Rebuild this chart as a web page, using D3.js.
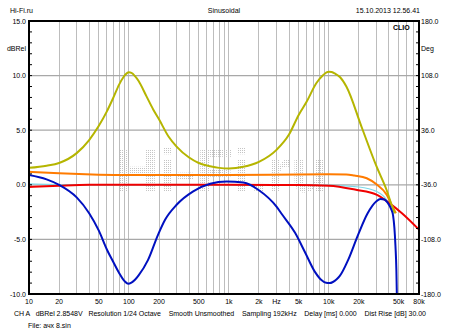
<!DOCTYPE html>
<html><head><meta charset="utf-8">
<script src="https://cdn.jsdelivr.net/npm/d3@7"></script>
<style>
html,body{margin:0;padding:0;background:#fff;}
text{font-family:"Liberation Sans",Arial,sans-serif;fill:#000;}
</style></head>
<body><svg id="c" width="450" height="335"></svg>
<script>
// ---- data ----
const xTickValues = [10,20,50,100,200,500,1000,2000,3000,5000,10000,20000,50000,80000];
const xTickLabels = ["10","20","50","100","200","500","1k","2k","Hz","5k","10k","20k","50k","80k"];
const leftTicks = [15,10,5,0,-5,-10];
const leftTickLabels = ["15.0","10.0","5.0","0.0","-5.0","-10.0"];
const rightTicks = [180,108,36,-36,-108,-180];
const rightTickLabels = ["180.0","108.0","36.0","-36.0","-108.0","-180.0"];

const yellowF = [10,15,20,30,40,50,60,70,80,88,95,100,106,115,125,150,175,200,250,300,400,500,650,800,1000,1400,2000,3000,4000,5000,6000,7500,8800,9500,10000,10700,11500,13000,15000,21500,30000,38000,44000,46000];
const yellowV = [1.55,1.75,2.0,2.9,4.1,5.4,6.7,8.0,9.2,9.85,10.2,10.3,10.25,9.95,9.5,8.1,6.9,6.0,4.4,3.5,2.5,2.0,1.7,1.55,1.5,1.65,2.1,3.2,4.6,6.4,7.6,9.3,10.05,10.3,10.36,10.33,10.2,9.85,9.0,5.2,1.7,-0.5,-2.2,-2.6];

const orangeF = [10,20,50,100,1000,5000,10000,15000,18000,24000,30000,38000,44000,47000];
const orangeV = [1.2,1.05,0.93,0.9,0.9,0.95,0.97,0.95,0.85,0.6,0.05,-0.9,-2.1,-2.6];

const redF = [10,20,40,100,1000,5000,10000,18700,30000,40000,54000,80000];
const redV = [-0.2,-0.08,0,0,0,-0.02,-0.08,-0.46,-0.9,-1.65,-2.6,-4.1];

const cyanF = [10,20,40,100,1000,10000,20000,30000,38000,42000,45000];
const cyanV = [0.08,0.02,0,0,0,-0.05,-0.2,-0.6,-1.4,-2.2,-2.7];

const blueF = [10,15,20,30,40,50,60,70,80,90,98,106,115,125,155,195,230,300,440,650,950,1400,2000,3000,3400,4600,5800,7300,8500,9400,10200,11000,12000,12900,15600,19600,24500,30000,33000,36000,39000,42000,44000,46500,47500,48000];
const blueV = [0.9,0.5,0.0,-1.15,-2.6,-4.2,-5.9,-7.1,-8.1,-8.8,-9.05,-8.95,-8.7,-8.3,-6.9,-4.6,-3.2,-1.83,-0.6,0.09,0.3,0.2,-0.5,-2.0,-2.7,-4.4,-6.2,-8.0,-8.75,-8.98,-9.0,-8.9,-8.65,-8.35,-6.9,-4.6,-2.6,-1.5,-1.3,-1.35,-1.66,-2.2,-2.8,-5.6,-7.8,-10.0];

// ---- layout ----
const svg = d3.select("#c");
const L=29, R=419, T=21, B=294;
const x = d3.scaleLog().domain([10,80000]).range([L,R]);
const y = d3.scaleLinear().domain([-10,15]).range([B,T]);
const y2 = d3.scaleLinear().domain([-180,180]).range([B,T]);

// header
svg.append("text").attr("x",10).attr("y",12.5).attr("font-size",7).text("Hi-Fi.ru");
svg.append("text").attr("x",224).attr("y",12.5).attr("font-size",7).attr("text-anchor","middle").text("Sinusoidal");
svg.append("text").attr("x",420).attr("y",12.5).attr("font-size",7).attr("text-anchor","end").text("15.10.2013 12.56.41");

// watermark pattern
const defs = svg.append("defs");
const pat = defs.append("pattern").attr("id","dots").attr("width",2).attr("height",2).attr("patternUnits","userSpaceOnUse");
pat.append("rect").attr("width",1).attr("height",1).attr("fill","#c4c4c4");

// vertical grid
const vGrid = [];
for (let d=10; d<80000; d*=10) for (let k=1;k<10;k++){ const f=d*k; if (f>10 && f<80000) vGrid.push(f); }
svg.append("g").selectAll("line").data(vGrid).join("line")
  .attr("x1",d=>x(d)).attr("x2",d=>x(d)).attr("y1",T).attr("y2",B)
  .attr("stroke","#bdbdbd").attr("stroke-width",1).attr("shape-rendering","crispEdges");
// horizontal grid
svg.append("g").selectAll("line").data([10,5,0,-5]).join("line")
  .attr("x1",L).attr("x2",R).attr("y1",d=>y(d)).attr("y2",d=>y(d))
  .attr("stroke","#a8a8a8").attr("stroke-width",1.2);

// watermark text
svg.append("text").attr("x",115).attr("y",192).attr("font-size",62).attr("font-weight","bold")
  .attr("textLength",213).attr("lengthAdjust","spacingAndGlyphs")
  .style("fill","url(#dots)").text("Hi-Fi.ru");

// CLIO
svg.append("text").attr("x",393).attr("y",29.5).attr("font-size",7).attr("font-weight","bold").text("CLIO");

// curves
const line = (F,V)=> d3.line().x((d,i)=>x(F[i])).y(d=>y(d)).curve(d3.curveMonotoneX)(V);
const g = svg.append("g").attr("clip-path","url(#clip)");
defs.append("clipPath").attr("id","clip").append("rect").attr("x",L).attr("y",T).attr("width",R-L).attr("height",B-T);
g.append("path").attr("d",line(cyanF,cyanV)).attr("fill","none").attr("stroke","#7fd8e8").attr("stroke-width",1.2);
g.append("path").attr("d",line(redF,redV)).attr("fill","none").attr("stroke","#f00000").attr("stroke-width",2);
g.append("path").attr("d",line(orangeF,orangeV)).attr("fill","none").attr("stroke","#ff7b00").attr("stroke-width",2);
g.append("path").attr("d",line(yellowF,yellowV)).attr("fill","none").attr("stroke","#b5b500").attr("stroke-width",2);
g.append("path").attr("d",line(blueF,blueV)).attr("fill","none").attr("stroke","#0010c0").attr("stroke-width",2);

// frame
svg.append("rect").attr("x",L).attr("y",T).attr("width",R-L).attr("height",B-T)
  .attr("fill","none").attr("stroke","#000").attr("stroke-width",2);

// minor ticks
const minor = d3.range(-10,15.01,1);
svg.append("g").selectAll("line").data(minor).join("line")
  .attr("x1",L).attr("x2",L+3).attr("y1",d=>y(d)).attr("y2",d=>y(d)).attr("stroke","#000").attr("stroke-width",1);
svg.append("g").selectAll("line").data(minor).join("line")
  .attr("x1",R-3).attr("x2",R).attr("y1",d=>y(d)).attr("y2",d=>y(d)).attr("stroke","#000").attr("stroke-width",1);

// left axis labels
svg.append("g").selectAll("text").data(leftTicks).join("text")
  .attr("x",26).attr("y",d=>y(d)+2.5).attr("font-size",7).attr("text-anchor","end")
  .text((d,i)=>leftTickLabels[i]);
svg.append("text").attr("x",26).attr("y",50.5).attr("font-size",7).attr("text-anchor","end").text("dBRel");
// right axis labels
svg.append("g").selectAll("text").data(rightTicks).join("text")
  .attr("x",421).attr("y",d=>y2(d)+2.5).attr("font-size",7)
  .text((d,i)=>rightTickLabels[i]);
svg.append("text").attr("x",421).attr("y",50.5).attr("font-size",7).text("Deg");

// x labels
svg.append("g").selectAll("text").data(xTickValues).join("text")
  .attr("x",d=>x(d)).attr("y",304).attr("font-size",7).attr("text-anchor","middle")
  .text((d,i)=>xTickLabels[i]);

// footer
svg.append("text").attr("x",14).attr("y",316).attr("font-size",7)
  .attr("textLength",412).attr("lengthAdjust","spacing")
  .attr("xml:space","preserve").style("white-space","pre")
  .text("CH A   dBRel 2.8548V   Resolution 1/24 Octave    Smooth Unsmoothed    Sampling 192kHz    Delay [ms] 0.000    Dist Rise [dB] 30.00");
svg.append("text").attr("x",28).attr("y",328).attr("font-size",7).text("File: ачх 8.sin");
</script></body></html>
